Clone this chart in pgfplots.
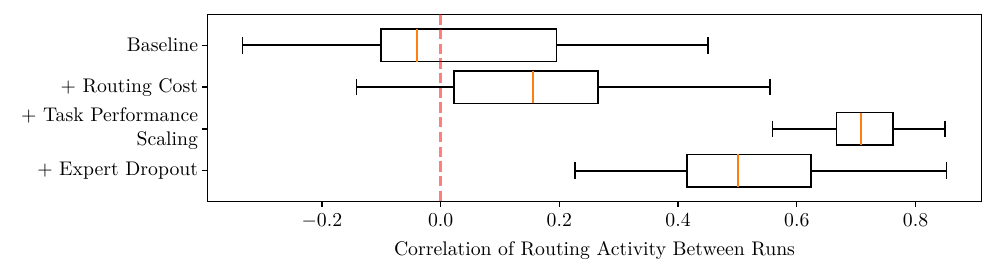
\documentclass[border=0pt]{standalone}
\usepackage{pgfplots}
\pgfplotsset{compat=1.18}
\usepgfplotslibrary{statistics}
\definecolor{mplorange}{HTML}{FF7F0E}
\definecolor{lightred}{HTML}{FF8080}
\begin{document}
\begin{tikzpicture}
\begin{axis}[
  width=392.6pt, height=95pt, scale only axis,
  xmin=-0.393, xmax=0.9115,
  ymin=0.26, ymax=4.74, y dir=reverse,
  ytick={1,2,3,4},
  yticklabels={Baseline,{+ Routing Cost},{+ Task Performance\\Scaling},{+ Expert Dropout}},
  yticklabel style={align=right, inner sep=2pt},
  xtick={-0.2,0,0.2,0.4,0.6,0.8},
  xticklabel style={/pgf/number format/fixed,/pgf/number format/fixed zerofill,/pgf/number format/precision=1},
  scaled x ticks=false,
  tick align=outside, major tick length=2.5pt,
  xtick pos=bottom, ytick pos=left,
  axis line style={line width=0.7pt},
  every tick/.style={black, line width=0.7pt},
  xlabel={Correlation of Routing Activity Between Runs},
  boxplot/box extend=0.78,
  boxplot/whisker extend=0.4,
  clip=false,
]
\addplot[black, line width=0.9pt, boxplot prepared={draw position=1, lower whisker=-0.3336, lower quartile=-0.100, median=-0.040, upper quartile=0.1954, upper whisker=0.450, every median/.style={draw=mplorange, line width=0.9pt}}] coordinates {};
\addplot[black, line width=0.9pt, boxplot prepared={draw position=2, lower whisker=-0.1415, lower quartile=0.0224, median=0.156, upper quartile=0.2656, upper whisker=0.5543, every median/.style={draw=mplorange, line width=0.9pt}}] coordinates {};
\addplot[black, line width=0.9pt, boxplot prepared={draw position=3, lower whisker=0.559, lower quartile=0.667, median=0.708, upper quartile=0.7616, upper whisker=0.8497, every median/.style={draw=mplorange, line width=0.9pt}}] coordinates {};
\addplot[black, line width=0.9pt, boxplot prepared={draw position=4, lower whisker=0.2263, lower quartile=0.415, median=0.501, upper quartile=0.624, upper whisker=0.852, every median/.style={draw=mplorange, line width=0.9pt}}] coordinates {};
\addplot[red, draw opacity=0.5, line width=1.4pt, dash pattern=on 5.2pt off 2.25pt] coordinates {(0,0.26) (0,4.74)};
\end{axis}
\pgfresetboundingbox
\path[use as bounding box] ([shift={(-105.1pt,-36.7pt)}]current axis.south west) rectangle ([shift={(7.25pt,7.25pt)}]current axis.north east);
\end{tikzpicture}
\end{document}
